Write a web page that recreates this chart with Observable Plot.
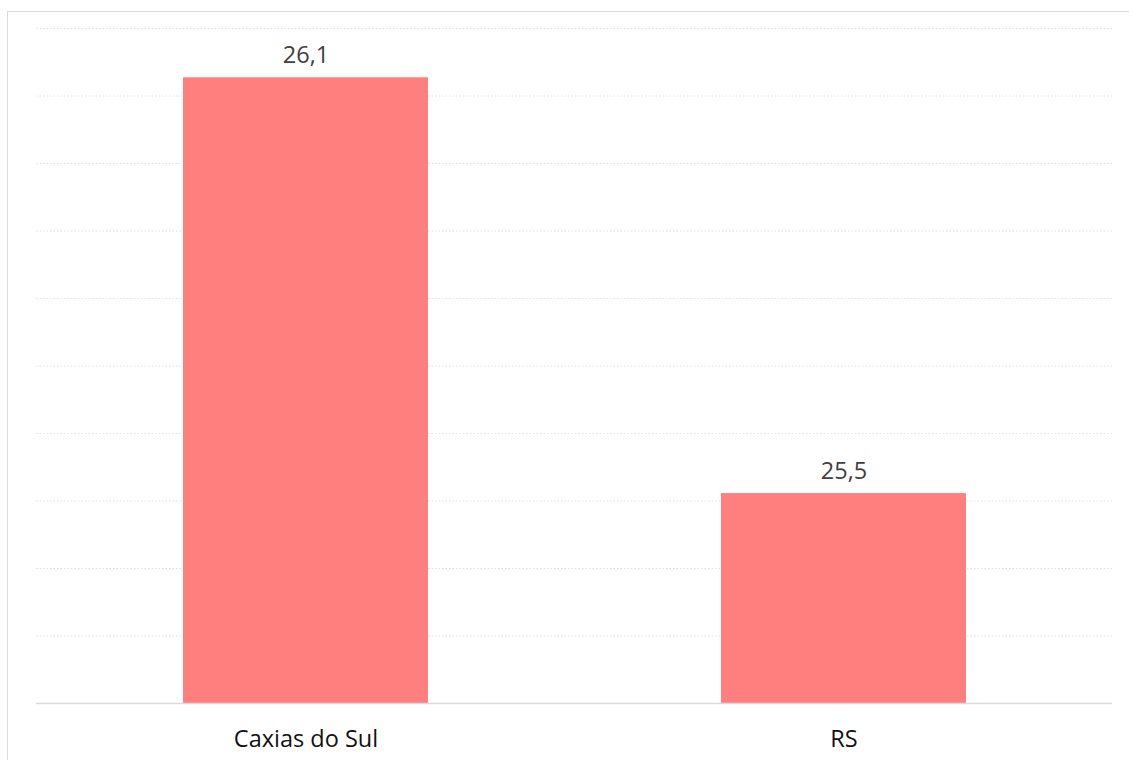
<!DOCTYPE html>
<html>
<head>
<meta charset="utf-8">
<script src="https://cdn.jsdelivr.net/npm/d3@7"></script>
<script src="https://cdn.jsdelivr.net/npm/@observablehq/plot@0.6"></script>
<style>
  html, body { margin: 0; padding: 0; background: #fff; }
  #wrap { position: relative; width: 1129px; height: 760px; overflow: hidden; }
  #frame { position: absolute; left: 7px; top: 11px; width: 1140px; height: 800px; border: 1.5px solid #d9d9d9; box-sizing: border-box; pointer-events: none; }
</style>
</head>
<body>
<div id="wrap"><div id="frame"></div></div>
<script>
const categories = ["Caxias do Sul", "RS"];
const values = [26.127, 25.511];
const gridTicks = [25.3, 25.4, 25.5, 25.6, 25.7, 25.8, 25.9, 26.0, 26.1, 26.2];
const axisMin = 25.2;
const axisMax = 26.2;

const data = categories.map((c, i) => ({category: c, value: values[i]}));
const fmt = v => v.toFixed(1).replace(".", ",");

const chart = Plot.plot({
  width: 1129,
  height: 760,
  marginLeft: 36,
  marginRight: 17,
  marginTop: 28,
  marginBottom: 57,
  style: {fontFamily: "'Open Sans', sans-serif", background: "transparent"},
  x: {domain: categories, paddingInner: 0.545, paddingOuter: 0.2725, label: null},
  y: {domain: [axisMin, axisMax], axis: null},
  marks: [
    Plot.ruleY(gridTicks, {stroke: "#e0e0e0", strokeWidth: 1, strokeDasharray: "1.5,2"}),
    Plot.barY(data, {x: "category", y1: axisMin, y2: "value", fill: "#ff7f7f"}),
    Plot.ruleY([axisMin], {stroke: "#d9d9d9", strokeWidth: 1.5}),
    Plot.text(data, {x: "category", y: "value", text: d => fmt(d.value), lineAnchor: "bottom", dy: -15, fontSize: 23.5, fill: "#404040"}),
    Plot.axisX({tickSize: 0, tickPadding: 27, fontSize: 23.5, fill: "#111", label: null})
  ]
});
document.getElementById("wrap").prepend(chart);
</script>
</body>
</html>
